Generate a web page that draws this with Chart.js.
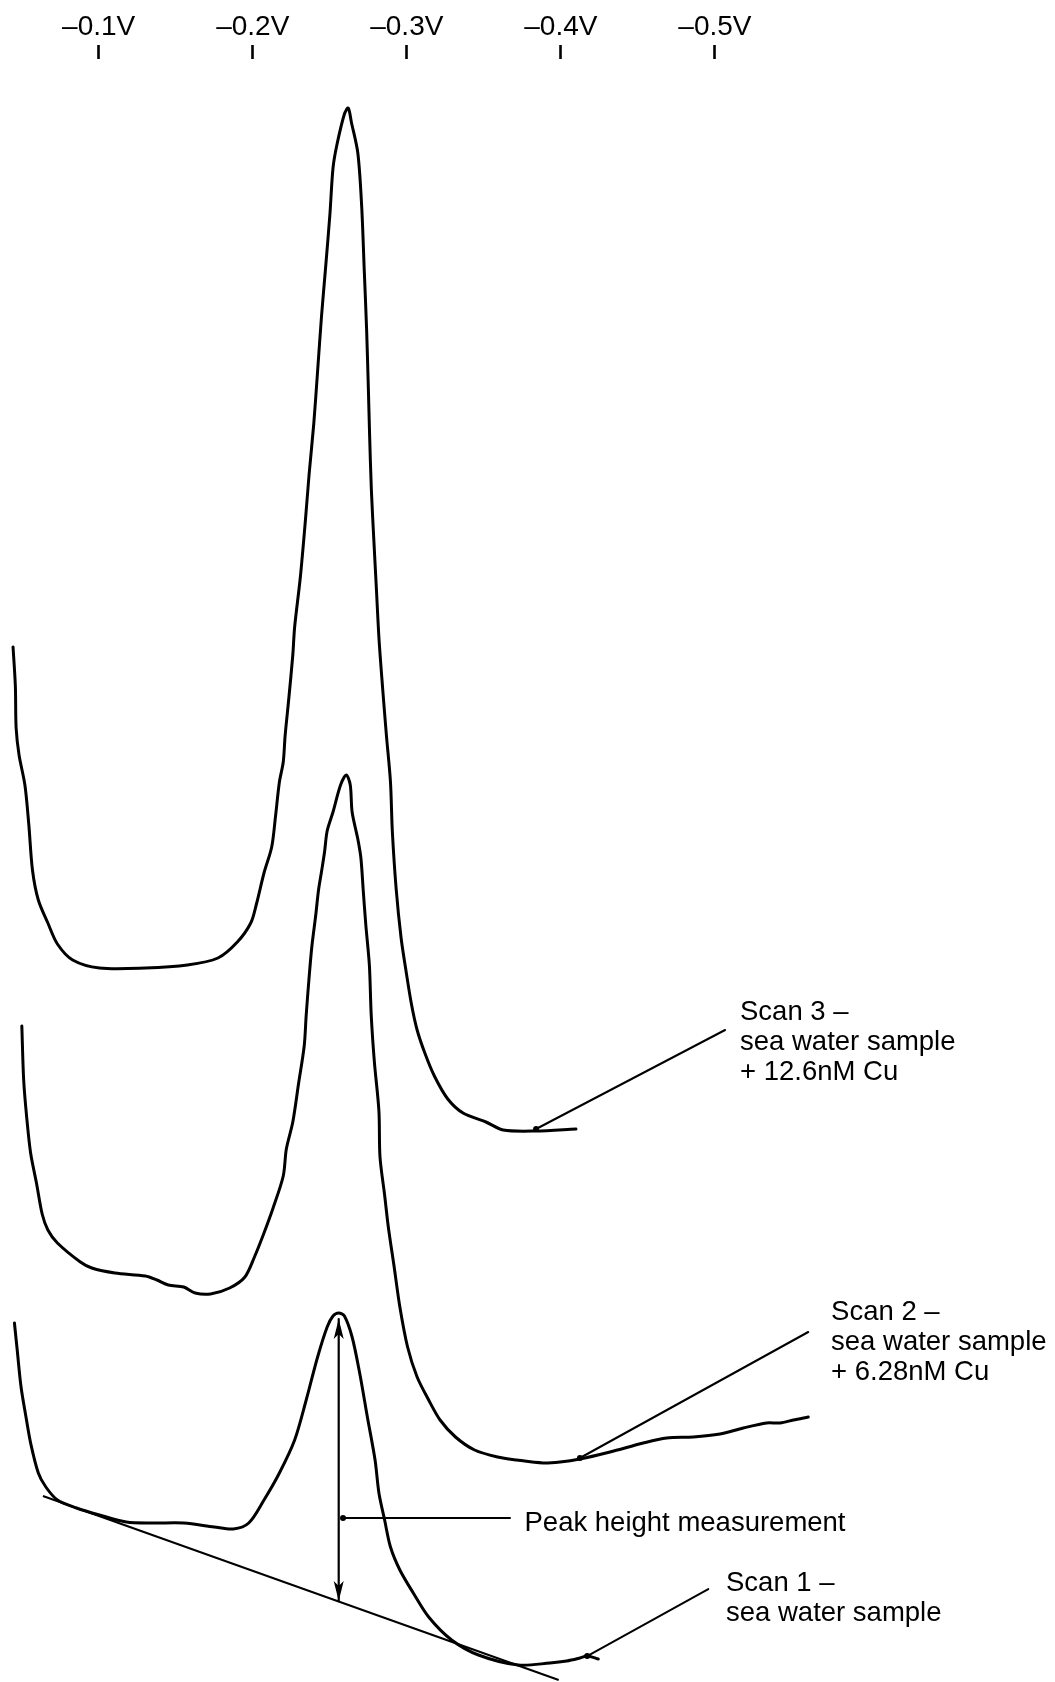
<!DOCTYPE html>
<html>
<head>
<meta charset="utf-8">
<script src="https://cdn.jsdelivr.net/npm/chart.js@4/dist/chart.umd.min.js"></script>
<style>
  html, body { margin: 0; padding: 0; background: #ffffff; }
  #wrap { width: 1055px; height: 1682px; }
</style>
</head>
<body>
<div id="wrap"><canvas id="c" width="1055" height="1682"></canvas></div>
<script>
// ---- Potential axis (V) tick values ----
const tickPotentials = [-0.1, -0.2, -0.3, -0.4, -0.5];

// ---- Scan 3: sea water sample + 12.6nM Cu ----
const scan3Potential = [-0.0444,-0.0459,-0.0464,-0.0483,-0.0521,-0.0546,-0.0570,-0.0608,-0.0670,-0.0732,
  -0.0831,-0.1005,-0.1303,-0.1576,-0.1774,-0.1900,-0.1987,-0.2024,-0.2073,-0.2123,
  -0.2148,-0.2173,-0.2198,-0.2210,-0.2235,-0.2260,-0.2272,-0.2309,-0.2342,-0.2366,
  -0.2396,-0.2421,-0.2446,-0.2471,-0.2501,-0.2521,-0.2546,-0.2595,-0.2620,-0.2640,
  -0.2682,-0.2707,-0.2724,-0.2739,-0.2750,-0.2758,-0.2770,-0.2786,-0.2803,-0.2820,
  -0.2844,-0.2868,-0.2894,-0.2906,-0.2931,-0.2963,-0.2993,-0.3030,-0.3067,-0.3117,
  -0.3179,-0.3266,-0.3365,-0.3514,-0.3626,-0.3837,-0.4098];
const scan3Current = [103.5,99.6,95.4,92.7,89.7,85.8,81.2,78.2,75.9,73.8,
  72.2,71.4,71.4,71.7,72.4,74.0,75.9,77.8,80.9,83.5,
  86.6,90.0,92.0,94.6,98.5,102.7,105.5,110.5,116.2,120.8,
  125.8,131.1,136.5,141.1,146.8,151.4,153.7,156.8,157.4,156.0,
  152.9,147.6,141.1,135.3,129.6,125.0,119.2,114.2,109.2,104.2,
  99.2,94.6,90.0,85.1,79.3,74.4,71.3,67.8,65.2,62.9,
  60.6,58.3,56.9,56.0,55.2,55.1,55.3];

// ---- Scan 2: sea water sample + 6.28nM Cu ----
const scan2Potential = [-0.0501,-0.0513,-0.0533,-0.0558,-0.0596,-0.0633,-0.0670,-0.0732,-0.0881,-0.0955,
  -0.1105,-0.1303,-0.1378,-0.1452,-0.1552,-0.1626,-0.1726,-0.1850,-0.1949,-0.2011,
  -0.2073,-0.2132,-0.2198,-0.2218,-0.2260,-0.2297,-0.2334,-0.2347,-0.2366,-0.2384,
  -0.2409,-0.2427,-0.2446,-0.2466,-0.2483,-0.2521,-0.2570,-0.2607,-0.2633,-0.2645,
  -0.2682,-0.2702,-0.2717,-0.2734,-0.2757,-0.2769,-0.2789,-0.2819,-0.2826,-0.2856,
  -0.2880,-0.2918,-0.2955,-0.3005,-0.3067,-0.3142,-0.3216,-0.3316,-0.3440,-0.3589,
  -0.3713,-0.3884,-0.3995,-0.4124,-0.4319,-0.4535,-0.4687,-0.4860,-0.5033,-0.5184,
  -0.5336,-0.5423,-0.5509,-0.5606];
const scan2Current = [65.6,60.2,56.4,52.9,49.9,46.8,45.2,43.9,42.0,41.4,
  40.9,40.6,40.2,39.7,39.5,38.9,38.8,39.4,40.5,42.5,
  44.9,47.4,50.6,53.3,56.0,59.8,63.6,66.7,70.5,73.6,
  76.7,79.2,81.0,83.0,85.1,87.0,89.7,90.7,89.7,87.0,
  84.3,82.4,79.2,75.7,71.7,66.7,62.1,57.1,52.5,48.7,
  45.5,41.5,37.5,33.5,30.5,28.2,26.2,24.5,23.2,22.5,
  22.2,21.9,22.0,22.3,23.0,23.9,24.4,24.5,24.8,25.4,
  25.9,25.9,26.2,26.5];

// ---- Scan 1: sea water sample ----
const scan1Potential = [-0.0453,-0.0471,-0.0496,-0.0528,-0.0558,-0.0608,-0.0657,-0.0732,-0.0856,-0.1005,
  -0.1179,-0.1352,-0.1552,-0.1750,-0.1874,-0.1974,-0.2073,-0.2173,-0.2272,-0.2347,
  -0.2421,-0.2483,-0.2521,-0.2558,-0.2595,-0.2645,-0.2694,-0.2744,-0.2794,-0.2819,
  -0.2856,-0.2894,-0.2955,-0.3042,-0.3142,-0.3291,-0.3465,-0.3724,-0.3929,-0.4038,
  -0.4124,-0.4171,-0.4243];
const scan1Current = [35.9,33.2,29.5,26.5,23.9,20.9,19.5,18.2,17.4,16.7,
  16.0,15.9,15.9,15.5,15.3,15.9,18.2,20.9,24.2,28.2,
  32.5,35.5,36.6,36.9,36.6,34.5,30.9,26.5,22.2,18.9,
  16.2,13.5,11.2,8.9,6.5,4.2,2.7,1.7,1.9,2.1,
  2.4,2.6,2.3];

// ---- Baseline drawn under scan 1 (tangent) ----
const baselinePotential = [-0.0638, -0.3986];
const baselineCurrent = [18.6, 0.2];

// ---- Peak height measurement (scan 1) ----
const peakArrowPotential = -0.2558;
const peakArrowCurrent = [36.3, 8.1];   // top (peak), bottom (baseline)
const peakLeaderPotential = [-0.2586, -0.3670];
const peakLeaderCurrent = 16.4;

// ---- Labels: leader start (on curve) / end, text anchor ----
const labelTexts = [
  ['Scan 3 –', 'sea water sample', '+ 12.6nM Cu'],
  ['Scan 2 –', 'sea water sample', '+ 6.28nM Cu'],
  ['Scan 1 –', 'sea water sample'],
  ['Peak height measurement']
];
const leaderFromPotential = [-0.3839, -0.4124, -0.4171];
const leaderFromCurrent   = [55.3, 22.4, 2.6];
const leaderToPotential   = [-0.5066, -0.5606, -0.4957];
const leaderToCurrent     = [65.2, 35.0, 9.3];
const textPotential = [-0.5163, -0.5754, -0.5072, -0.3764];
const textCurrent   = [66.25, 36.2, 9.1, 15.15];

const toXY = (xs, ys) => xs.map((x, i) => ({ x: x, y: ys[i] }));

const FONT = '"Liberation Sans", Arial, Helvetica, sans-serif';

const annotationPlugin = {
  id: 'annotations',
  afterDatasetsDraw(chart) {
    const ctx = chart.ctx;
    const xs = chart.scales.x, ys = chart.scales.y;
    const X = v => xs.getPixelForValue(v);
    const Y = v => ys.getPixelForValue(v);
    ctx.save();
    ctx.strokeStyle = '#000';
    ctx.fillStyle = '#000';
    ctx.lineCap = 'round';

    // leader lines with dot on the curve
    ctx.lineWidth = 2;
    for (let i = 0; i < leaderFromPotential.length; i++) {
      const x1 = X(leaderFromPotential[i]), y1 = Y(leaderFromCurrent[i]);
      const x2 = X(leaderToPotential[i]), y2 = Y(leaderToCurrent[i]);
      ctx.beginPath(); ctx.moveTo(x1, y1); ctx.lineTo(x2, y2); ctx.stroke();
      ctx.beginPath(); ctx.arc(x1, y1, 3, 0, Math.PI * 2); ctx.fill();
    }

    // peak height double arrow
    const ax = X(peakArrowPotential);
    const ayTop = Y(peakArrowCurrent[0]), ayBot = Y(peakArrowCurrent[1]);
    ctx.lineWidth = 2.2;
    ctx.beginPath(); ctx.moveTo(ax, ayTop); ctx.lineTo(ax, ayBot); ctx.stroke();
    const head = (tipY, dir) => {
      ctx.beginPath();
      ctx.moveTo(ax, tipY);
      ctx.lineTo(ax - 5, tipY + dir * 20);
      ctx.lineTo(ax, tipY + dir * 15);
      ctx.lineTo(ax + 5, tipY + dir * 20);
      ctx.closePath();
      ctx.fill();
    };
    head(ayTop, 1);
    head(ayBot, -1);

    // peak leader
    const ly = Y(peakLeaderCurrent);
    ctx.lineWidth = 2;
    ctx.beginPath(); ctx.moveTo(X(peakLeaderPotential[0]), ly); ctx.lineTo(X(peakLeaderPotential[1]), ly); ctx.stroke();
    ctx.beginPath(); ctx.arc(X(peakLeaderPotential[0]), ly, 3, 0, Math.PI * 2); ctx.fill();

    // texts
    ctx.font = '27.5px ' + FONT;
    ctx.textAlign = 'left';
    ctx.textBaseline = 'alphabetic';
    labelTexts.forEach((lines, i) => {
      const tx = X(textPotential[i]);
      const ty = Y(textCurrent[i]);
      lines.forEach((t, k) => ctx.fillText(t, tx, ty + k * 30));
    });
    ctx.restore();
  }
};

const curveStyle = {
  showLine: true, borderColor: '#000', borderWidth: 3, pointRadius: 0,
  tension: 0.3, fill: false, borderJoinStyle: 'round', borderCapStyle: 'round'
};

new Chart(document.getElementById('c'), {
  type: 'scatter',
  data: {
    datasets: [
      Object.assign({ label: 'Scan 3', data: toXY(scan3Potential, scan3Current) }, curveStyle),
      Object.assign({ label: 'Scan 2', data: toXY(scan2Potential, scan2Current) }, curveStyle),
      Object.assign({ label: 'Scan 1', data: toXY(scan1Potential, scan1Current) }, curveStyle),
      { label: 'Baseline', data: toXY(baselinePotential, baselineCurrent), showLine: true,
        borderColor: '#000', borderWidth: 2, pointRadius: 0, tension: 0 }
    ]
  },
  options: {
    responsive: false,
    animation: false,
    events: [],
    layout: { padding: 0 },
    plugins: { legend: { display: false }, tooltip: { enabled: false } },
    scales: {
      x: {
        type: 'linear',
        position: 'top',
        reverse: true,
        min: -0.72077,
        max: -0.03593,
        afterBuildTicks: (scale) => { scale.ticks = tickPotentials.map(v => ({ value: v })); },
        afterFit: (scale) => { scale.height = 59.3; },
        border: { display: false },
        grid: {
          drawOnChartArea: false, drawTicks: true, tickLength: 14.3,
          tickColor: '#000', tickWidth: 2.6, color: '#000'
        },
        ticks: {
          padding: 0.5,
          color: '#000',
          font: { family: FONT, size: 28 },
          maxRotation: 0,
          autoSkip: false,
          callback: (v) => '–' + Math.abs(v).toFixed(1) + 'V'
        }
      },
      y: {
        display: false,
        min: 0,
        max: 162.27
      }
    }
  },
  plugins: [annotationPlugin]
});
</script>
</body>
</html>
